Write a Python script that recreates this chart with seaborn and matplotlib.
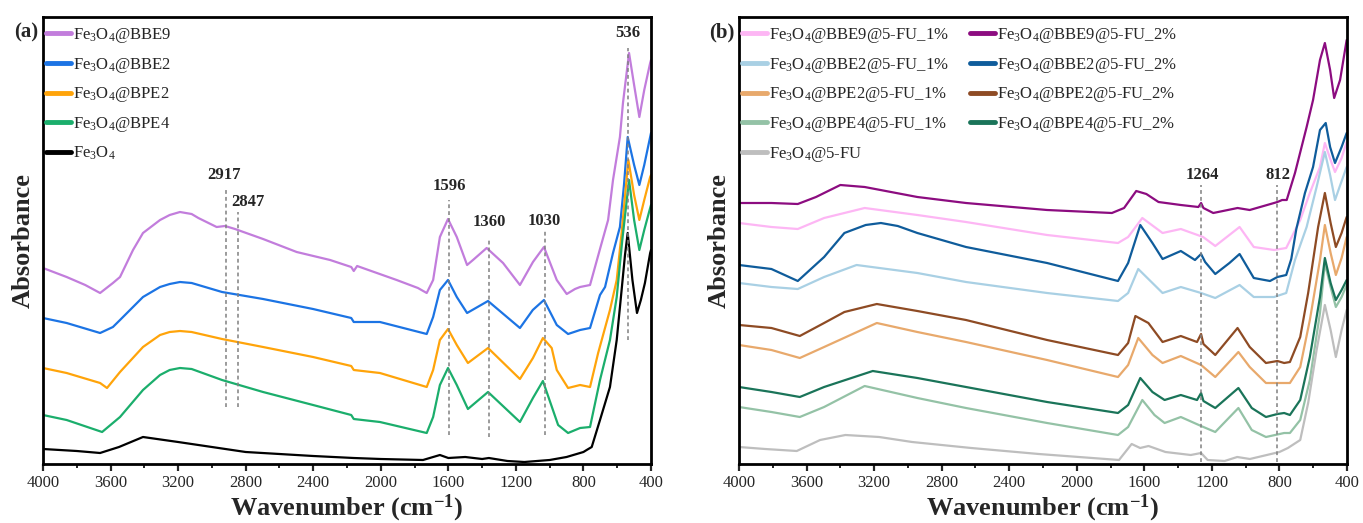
import matplotlib
matplotlib.use("Agg")
import matplotlib.pyplot as plt
from matplotlib.lines import Line2D
from matplotlib.ticker import MultipleLocator
import numpy as np
import pandas as pd
import seaborn as sns

# ---- panel (a) spectra: wavenumber (cm-1) / absorbance (arb. units, offset) ----
wn_a_bbe9 = [4000, 3860, 3750, 3662, 3586, 3544, 3467, 3408, 3307, 3250, 3189, 3120, 3080, 2972,
             2922, 2863, 2697, 2498, 2300, 2175, 2160, 2140, 1906, 1780, 1728, 1690, 1650, 1602,
             1550, 1489, 1454, 1373, 1276, 1176, 1099, 1034, 958, 899, 850, 820, 761, 702, 654,
             625, 584, 566, 530, 500, 469, 440, 405, 400]
ab_a_bbe9 = [196, 187, 179, 171, 181, 187, 214, 231, 244, 249, 252, 250, 246, 237,
             238, 235, 225, 212, 204, 197, 193, 198, 184, 176, 171, 184, 227, 245,
             227, 199, 204, 216, 201, 179, 202, 217, 184, 170, 175, 177, 179, 215, 244,
             284, 327, 361, 411, 379, 347, 374, 401, 404]

wn_a_bbe2 = [4000, 3860, 3662, 3586, 3544, 3408, 3307, 3250, 3189, 3120, 2940, 2697, 2401, 2175,
             2160, 2005, 1728, 1690, 1650, 1602, 1550, 1489, 1365, 1176, 1100, 1034, 958, 891,
             820, 761, 702, 672, 625, 584, 560, 538, 500, 469, 440, 405, 400]
ab_a_bbe2 = [146, 141, 131, 137, 144, 167, 177, 180, 182, 181, 172, 165, 155, 146,
             142, 142, 130, 147, 174, 184, 167, 151, 163, 136, 154, 164, 139, 130,
             134, 136, 169, 177, 211, 237, 279, 327, 299, 279, 299, 327, 331]

wn_a_bpe2 = [4000, 3860, 3662, 3621, 3544, 3408, 3307, 3250, 3189, 3120, 2940, 2697, 2401, 2175,
             2160, 2005, 1728, 1690, 1650, 1602, 1550, 1484, 1365, 1176, 1099, 1040, 988, 958,
             891, 820, 761, 713, 643, 603, 574, 534, 500, 469, 440, 405, 400]
ab_a_bpe2 = [96, 91, 81, 76, 92, 117, 129, 132, 133, 132, 125, 117, 107, 98,
             94, 91, 77, 94, 124, 135, 119, 101, 116, 85, 106, 126, 116, 94,
             76, 79, 77, 111, 154, 184, 231, 304, 269, 244, 264, 287, 289]

wn_a_bpe4 = [4000, 3860, 3650, 3544, 3408, 3307, 3250, 3189, 3120, 2940, 2697, 2401, 2175, 2160,
             2005, 1728, 1690, 1650, 1602, 1550, 1484, 1365, 1176, 1099, 1040, 950, 891, 820,
             761, 702, 643, 603, 570, 530, 500, 469, 440, 405, 400]
ab_a_bpe4 = [49, 44, 32, 47, 74, 89, 94, 96, 95, 84, 72, 59, 49, 45,
             42, 31, 47, 79, 96, 79, 55, 72, 42, 66, 83, 39, 31, 36,
             37, 84, 124, 167, 224, 284, 244, 214, 234, 256, 259]

wn_a_fe3o4 = [4000, 3800, 3662, 3550, 3408, 3200, 3000, 2800, 2400, 2160, 2000, 1750, 1650, 1600,
              1500, 1400, 1360, 1250, 1150, 1000, 900, 800, 781, 751, 702, 643, 603, 574, 554,
              538, 510, 483, 460, 436, 405, 400]
ab_a_fe3o4 = [15, 13, 11, 17, 27, 22, 17, 12, 8, 6, 5, 4, 9, 6,
              7, 5, 6, 3, 2, 4, 7, 12, 14, 17, 44, 77, 124, 174, 209,
              231, 184, 151, 164, 181, 211, 214]

# ---- panel (b) spectra ----
wn_b_bbe9_2 = [4000, 3808, 3652, 3544, 3400, 3256, 2944, 2656, 2176, 1792, 1720, 1648, 1588, 1516,
               1384, 1280, 1264, 1250, 1192, 1048, 976, 832, 812, 784, 757, 708, 639, 601, 560,
               531, 500, 476, 441, 402]
ab_b_bbe9_2 = [261, 261, 260, 267, 279, 277, 267, 261, 254, 251, 256, 273, 270, 262,
               259, 257, 261, 256, 251, 256, 254, 261, 262, 264, 264, 291, 337, 364, 404,
               421, 394, 366, 384, 424]

wn_b_bbe9_1 = [4000, 3808, 3652, 3496, 3256, 2944, 2656, 2176, 1756, 1696, 1612, 1492, 1384, 1252,
               1180, 1036, 952, 832, 760, 677, 620, 560, 531, 497, 471, 432, 402]
ab_b_bbe9_1 = [241, 237, 235, 246, 256, 249, 242, 229, 221, 227, 246, 231, 235, 227,
               218, 237, 217, 214, 216, 244, 271, 297, 321, 304, 292, 306, 322]

wn_b_bbe2_2 = [4000, 3808, 3652, 3496, 3376, 3250, 3160, 3060, 2944, 2656, 2176, 1756, 1696, 1624,
               1552, 1492, 1384, 1300, 1264, 1240, 1180, 1096, 1036, 952, 856, 812, 760, 730,
               700, 649, 601, 560, 526, 500, 471, 432, 402]
ab_b_bbe2_2 = [199, 195, 183, 207, 231, 239, 241, 238, 231, 217, 201, 183, 201, 239,
               221, 205, 213, 204, 210, 202, 190, 201, 210, 186, 183, 187, 189, 205,
               235, 271, 297, 334, 341, 317, 301, 317, 331]

wn_b_bbe2_1 = [4000, 3808, 3652, 3496, 3304, 2944, 2656, 2176, 1756, 1696, 1636, 1552, 1492, 1384,
               1264, 1180, 1036, 952, 832, 760, 708, 639, 580, 531, 500, 471, 440, 402]
ab_b_bbe2_1 = [181, 177, 175, 187, 199, 191, 182, 171, 163, 171, 195, 181, 171, 177,
               171, 166, 179, 167, 167, 171, 204, 237, 277, 312, 289, 264, 279, 297]

wn_b_bpe2_2 = [4000, 3808, 3640, 3496, 3376, 3184, 2944, 2656, 2176, 1756, 1696, 1653, 1576, 1492,
               1384, 1288, 1264, 1250, 1180, 1048, 976, 880, 812, 772, 738, 677, 630, 571, 531,
               497, 466, 432, 402]
ab_b_bpe2_2 = [139, 136, 128, 141, 152, 160, 153, 144, 124, 109, 121, 148, 141, 122,
               128, 122, 130, 120, 109, 136, 117, 101, 103, 101, 102, 127, 171, 237, 271,
               241, 217, 231, 247]

wn_b_bpe2_1 = [4000, 3808, 3640, 3496, 3184, 2944, 2656, 2176, 1756, 1696, 1636, 1552, 1492, 1384,
               1264, 1180, 1043, 976, 880, 772, 738, 677, 620, 560, 531, 497, 466, 432, 402]
ab_b_bpe2_1 = [119, 114, 106, 117, 141, 132, 122, 104, 87, 99, 126, 109, 101, 108,
               99, 87, 112, 97, 81, 81, 81, 97, 144, 204, 239, 211, 189, 206, 227]

wn_b_bpe4_2 = [4000, 3808, 3640, 3496, 3208, 2944, 2656, 2176, 1756, 1696, 1624, 1552, 1480, 1384,
               1288, 1264, 1250, 1180, 1043, 964, 880, 812, 772, 738, 677, 620, 560, 531, 497,
               466, 432, 402]
ab_b_bpe4_2 = [77, 72, 67, 77, 93, 86, 77, 62, 51, 59, 86, 72, 64, 69,
               64, 71, 63, 56, 76, 56, 47, 50, 51, 49, 64, 107, 167, 206, 181,
               164, 174, 184]

wn_b_bpe4_1 = [4000, 3808, 3640, 3496, 3256, 2944, 2656, 2176, 1756, 1696, 1612, 1540, 1480, 1384,
               1264, 1180, 1043, 964, 880, 772, 738, 677, 620, 560, 531, 497, 466, 432, 402]
ab_b_bpe4_1 = [57, 52, 47, 57, 78, 66, 56, 41, 29, 37, 64, 49, 41, 47,
               38, 32, 56, 34, 27, 31, 31, 44, 84, 151, 201, 177, 157, 167, 179]

wn_b_5fu = [4000, 3845, 3658, 3520, 3370, 3170, 2975, 2625, 2225, 1750, 1675, 1625, 1575, 1475,
            1325, 1264, 1225, 1125, 1050, 975, 800, 750, 677, 630, 580, 531, 497, 466, 432, 402]
ab_b_5fu = [17, 15, 13, 24, 29, 27, 22, 16, 10, 4, 20, 16, 18, 12,
            9, 11, 4, 3, 7, 5, 12, 16, 24, 61, 114, 159, 134, 107, 134, 154]

labels_a = ['Fe$_3$O$_4$@BBE9', 'Fe$_3$O$_4$@BBE2', 'Fe$_3$O$_4$@BPE2', 'Fe$_3$O$_4$@BPE4', 'Fe$_3$O$_4$']
colors_a = ['#C27DDC', '#1C74E4', '#FFA40A', '#1BAE6C', '#000000']
series_a = [(wn_a_bbe9, ab_a_bbe9), (wn_a_bbe2, ab_a_bbe2), (wn_a_bpe2, ab_a_bpe2),
            (wn_a_bpe4, ab_a_bpe4), (wn_a_fe3o4, ab_a_fe3o4)]

labels_b = ['Fe$_3$O$_4$@BBE9@5-FU_1%', 'Fe$_3$O$_4$@BBE2@5-FU_1%', 'Fe$_3$O$_4$@BPE2@5-FU_1%',
            'Fe$_3$O$_4$@BPE4@5-FU_1%', 'Fe$_3$O$_4$@5-FU',
            'Fe$_3$O$_4$@BBE9@5-FU_2%', 'Fe$_3$O$_4$@BBE2@5-FU_2%', 'Fe$_3$O$_4$@BPE2@5-FU_2%',
            'Fe$_3$O$_4$@BPE4@5-FU_2%']
colors_b = ['#FDB6F4', '#A9D0E4', '#E8A96C', '#94C2A6', '#BEBEBE',
            '#8C0C80', '#0F5C9B', '#8E4B24', '#1A7459']
series_b = [(wn_b_bbe9_1, ab_b_bbe9_1), (wn_b_bbe2_1, ab_b_bbe2_1), (wn_b_bpe2_1, ab_b_bpe2_1),
            (wn_b_bpe4_1, ab_b_bpe4_1), (wn_b_5fu, ab_b_5fu),
            (wn_b_bbe9_2, ab_b_bbe9_2), (wn_b_bbe2_2, ab_b_bbe2_2), (wn_b_bpe2_2, ab_b_bpe2_2),
            (wn_b_bpe4_2, ab_b_bpe4_2)]

# peak markers: (wavenumber, line top, line bottom, label x, label y)
peaks_a = [(2917, 274, 57, 2930, 289, '2917'), (2847, 252, 57, 2785, 262, '2847'),
           (1596, 264, 29, 1596, 278, '1596'), (1360, 226, 27, 1360, 242, '1360'),
           (1030, 234, 29, 1030, 243, '1030'), (536, 416, 124, 536, 431, '536')]
peaks_b = [(1264, 279, 2, 1254, 289, '1264'), (812, 279, 2, 810, 289, '812')]

sns.set_style('ticks')
plt.rcParams['font.family'] = ['Liberation Serif', 'DejaVu Serif']
plt.rcParams['mathtext.fontset'] = 'custom'
plt.rcParams['mathtext.rm'] = 'Liberation Serif'
plt.rcParams['mathtext.it'] = 'Liberation Serif:italic'
plt.rcParams['mathtext.bf'] = 'Liberation Serif:bold'


def to_frame(series, labels):
    frames = []
    for (wn, ab), lab in zip(series, labels):
        frames.append(pd.DataFrame({'wavenumber': wn, 'absorbance': ab, 'sample': lab}))
    return pd.concat(frames, ignore_index=True)


def draw_panel(ax, series, labels, colors, peaks, ncol, tag):
    df = to_frame(series, labels)
    sns.lineplot(data=df, x='wavenumber', y='absorbance', hue='sample', hue_order=labels,
                 palette=dict(zip(labels, colors)), estimator=None, sort=False,
                 linewidth=1.6, legend=False, ax=ax)
    for wn, top, bot, lx, ly, txt in peaks:
        ax.plot([wn, wn], [bot, top], color='#808080', linestyle=(0, (2.5, 2)), linewidth=1.1)
        ax.text(lx, ly, txt, ha='center', va='center', fontsize=12, fontweight='bold')
    ax.set_xlim(4000, 400)
    ax.set_ylim(0, 447)
    ax.xaxis.set_major_locator(MultipleLocator(400))
    ax.xaxis.set_minor_locator(MultipleLocator(200))
    ax.tick_params(axis='x', which='major', direction='out', length=5, width=1.6,
                   labelsize=12, pad=3)
    ax.tick_params(axis='x', which='minor', direction='out', length=3, width=1.4)
    ax.set_yticks([])
    for s in ax.spines.values():
        s.set_visible(True)
        s.set_linewidth(2)
        s.set_color('black')
    ax.set_xlabel('Wavenumber (cm$^{\\mathbf{-1}}$)', fontsize=19, fontweight='bold', labelpad=1)
    ax.set_ylabel('Absorbance', fontsize=19, fontweight='bold', labelpad=6)
    handles = [Line2D([], [], color=c, linewidth=3.5) for c in colors]
    ax.legend(handles, labels, ncol=ncol, loc='upper left', bbox_to_anchor=(0.0, 0.987),
              frameon=False, fontsize=12, handlelength=1.5, handletextpad=0.12,
              labelspacing=0.64, borderaxespad=0.1, borderpad=0.1, columnspacing=1.25)
    ax.text(-0.028, 0.965, tag, transform=ax.transAxes, ha='center', va='center',
            fontsize=15, fontweight='bold')


fig = plt.figure(figsize=(13.63, 5.23), dpi=100)
ax_a = fig.add_axes([43 / 1363, 59 / 523, 608 / 1363, 447 / 523])
ax_b = fig.add_axes([739 / 1363, 59 / 523, 608 / 1363, 447 / 523])

draw_panel(ax_a, series_a, labels_a, colors_a, peaks_a, 1, '(a)')
draw_panel(ax_b, series_b, labels_b, colors_b, peaks_b, 2, '(b)')

fig.savefig('out.png', dpi=100)
